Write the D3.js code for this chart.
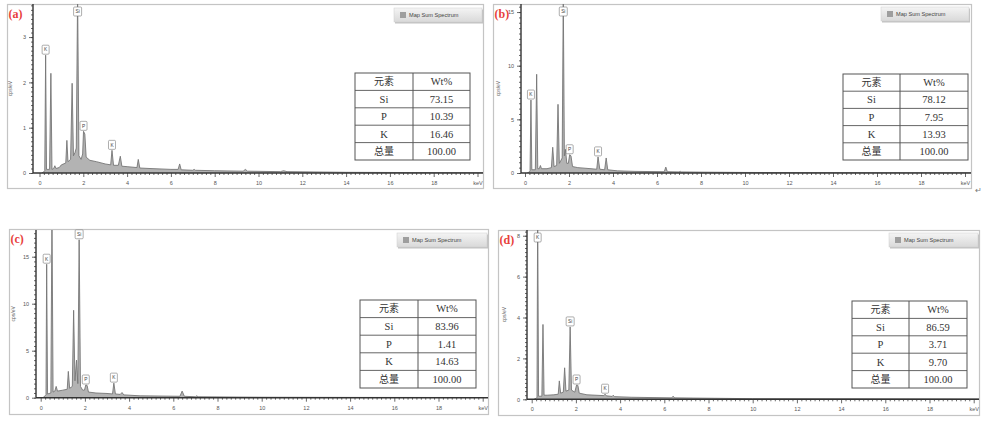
<!DOCTYPE html>
<html><head><meta charset="utf-8">
<script src="https://cdn.jsdelivr.net/npm/d3@7"></script>
<style>body{margin:0;background:#fff;} svg{display:block}</style>
</head><body>
<svg id="chart" width="993" height="422"></svg>
<script>
// ---------------- DATA ----------------
const panelLabels = ["(a)", "(b)", "(c)", "(d)"];
const tableElements = ["元素", "Si", "P", "K", "总量"];
const tableHeader = "Wt%";
const wtA = ["73.15", "10.39", "16.46", "100.00"];
const wtB = ["78.12", "7.95", "13.93", "100.00"];
const wtC = ["83.96", "1.41", "14.63", "100.00"];
const wtD = ["86.59", "3.71", "9.70", "100.00"];
const xTickValues = [0, 2, 4, 6, 8, 10, 12, 14, 16, 18];
const xUnitLabel = "keV";
const yTicksA = [0, 1, 2, 3];
const yTicksB = [0, 5, 10, 15];
const yTicksC = [0, 5, 10, 15];
const yTicksD = [0, 2, 4, 6, 8];
const yAxisTitle = "cps/eV";
const legendText = "Map Sum Spectrum";

// spectra: [keV, cps/eV]
const spectrumA = [[0.1,0],[0.18,0.02],[0.24,0.05],[0.28,2.6],[0.32,0.08],[0.46,0.08],[0.52,2.2],[0.57,0.08],[0.65,0.1],[0.7,0.16],[0.75,0.1],[0.9,0.12],[1.0,0.18],[1.2,0.22],[1.25,0.72],[1.3,0.25],[1.42,0.3],[1.49,1.98],[1.55,0.38],[1.62,0.45],[1.68,0.55],[1.74,3.95],[1.8,0.38],[1.9,0.3],[1.97,0.42],[2.01,0.92],[2.07,0.86],[2.13,0.35],[2.3,0.28],[2.6,0.25],[3.0,0.2],[3.25,0.18],[3.31,0.5],[3.38,0.17],[3.6,0.17],[3.69,0.37],[3.76,0.15],[4.0,0.14],[4.45,0.12],[4.51,0.3],[4.58,0.11],[5.0,0.1],[6.0,0.08],[6.33,0.08],[6.4,0.2],[6.47,0.07],[7.0,0.06],[7.06,0.08],[7.12,0.06],[8.0,0.05],[9.3,0.04],[9.4,0.08],[9.5,0.04],[11.0,0.03],[11.15,0.05],[11.3,0.03],[14,0.015],[17,0.01],[20.5,0.005]];
const spectrumB = [[0.1,0],[0.2,0.1],[0.23,0.2],[0.27,6.8],[0.31,0.3],[0.47,0.3],[0.53,9.2],[0.58,0.4],[0.65,0.4],[0.7,0.7],[0.75,0.4],[1.0,0.4],[1.2,0.5],[1.26,2.4],[1.32,0.6],[1.44,0.7],[1.5,6.4],[1.56,0.9],[1.64,1.2],[1.69,1.4],[1.74,16.5],[1.79,1.6],[1.84,2.2],[1.9,0.9],[1.97,0.9],[2.03,1.7],[2.09,1.6],[2.16,0.6],[2.4,0.5],[3.0,0.4],[3.26,0.35],[3.32,1.5],[3.4,0.35],[3.62,0.3],[3.69,1.4],[3.76,0.3],[4.2,0.2],[4.5,0.18],[5.0,0.15],[6.33,0.12],[6.4,0.55],[6.47,0.12],[7.0,0.1],[7.06,0.15],[7.12,0.1],[8.0,0.08],[10,0.05],[14,0.03],[20.5,0.01]];
const spectrumC = [[0.1,0],[0.2,0.2],[0.24,0.3],[0.27,14.2],[0.31,0.4],[0.46,0.5],[0.51,19.5],[0.56,0.6],[0.64,0.7],[0.7,1.2],[0.76,0.7],[1.0,0.8],[1.2,0.9],[1.25,2.8],[1.31,1.0],[1.43,1.2],[1.49,9.3],[1.55,1.8],[1.62,4.0],[1.68,1.5],[1.74,16.8],[1.8,1.2],[1.9,0.8],[1.98,0.8],[2.04,1.35],[2.1,1.3],[2.16,0.6],[2.5,0.5],[3.0,0.45],[3.25,0.4],[3.31,1.55],[3.38,0.4],[3.6,0.35],[3.68,0.55],[3.76,0.3],[4.5,0.2],[6.3,0.15],[6.4,0.7],[6.5,0.15],[7.0,0.1],[7.06,0.2],[7.12,0.1],[10,0.05],[14,0.03],[20.5,0.02]];
const spectrumD = [[0.1,0],[0.2,0.05],[0.24,0.1],[0.27,9.5],[0.31,0.15],[0.46,0.15],[0.51,3.66],[0.56,0.2],[0.7,0.2],[1.0,0.22],[1.2,0.25],[1.25,0.9],[1.31,0.3],[1.43,0.35],[1.49,1.54],[1.55,0.4],[1.68,0.45],[1.74,3.54],[1.8,0.45],[1.95,0.35],[2.03,0.7],[2.09,0.68],[2.15,0.3],[2.5,0.22],[3.26,0.18],[3.32,0.25],[3.38,0.17],[3.64,0.14],[3.69,0.2],[3.75,0.13],[4.5,0.1],[6.33,0.07],[6.4,0.15],[6.47,0.07],[10,0.03],[20.5,0.01]];

const peakLabelsA = [[0.28,"K"],[1.74,"Si"],[2.01,"P"],[3.31,"K"]];
const peakLabelsB = [[0.27,"K"],[1.74,"Si"],[2.03,"P"],[3.32,"K"]];
const peakLabelsC = [[0.27,"K"],[1.74,"Si"],[2.04,"P"],[3.31,"K"]];
const peakLabelsD = [[0.27,"K"],[1.74,"Si"],[2.03,"P"],[3.32,"K"]];

// ---------------- LAYOUT ----------------
const panels = [
  {label:panelLabels[0], wt:wtA, yTicks:yTicksA, spec:spectrumA, peaks:peakLabelsA, yMinor:0.1,
   frame:[7,4,483,188], ax:33, x0:39.5, k:21.9, base:173, top:4, ymax:3.73,
   table:[355,73,470,160,413], legend:[394,8,482,22]},
  {label:panelLabels[1], wt:wtB, yTicks:yTicksB, spec:spectrumB, peaks:peakLabelsB, yMinor:0.5,
   frame:[493,4,971,188], ax:521, x0:525, k:22.0, base:173, top:4, ymax:15.75,
   table:[843,74,968,160,900], legend:[881,7,969,21]},
  {label:panelLabels[2], wt:wtC, yTicks:yTicksC, spec:spectrumC, peaks:peakLabelsC, yMinor:0.5,
   frame:[9,229,488,414], ax:36, x0:40.7, k:22.1, base:397.7, top:230, ymax:17.84,
   table:[360,300,476,388,418], legend:[397,233,487,247]},
  {label:panelLabels[3], wt:wtD, yTicks:yTicksD, spec:spectrumD, peaks:peakLabelsD, yMinor:0.2,
   frame:[498,230,979,415], ax:527, x0:531.7, k:22.1, base:399.3, top:230, ymax:8.28,
   table:[852,301,967,388,909], legend:[889,233,978,247]}
];

const svg = d3.select("#chart");
const defs = svg.append("defs");
const grad = defs.append("linearGradient").attr("id","lg").attr("x1",0).attr("y1",0).attr("x2",0).attr("y2",1);
grad.append("stop").attr("offset","0%").attr("stop-color","#f4f4f4");
grad.append("stop").attr("offset","100%").attr("stop-color","#d9d9d9");

const sans = "'Liberation Sans', Arial, sans-serif";
const serif = "'Liberation Serif', 'Times New Roman', serif";
const cjk = "'Noto Sans CJK SC', sans-serif";
const intFmt = d3.format("d");

panels.forEach((p, i) => {
  const g = svg.append("g");
  const [fx0, fy0, fx1, fy1] = p.frame;
  // frame
  g.append("rect").attr("x", fx0 + 0.5).attr("y", fy0 + 0.5).attr("width", fx1 - fx0).attr("height", fy1 - fy0)
    .attr("fill", "#fff").attr("stroke", "#c4c4c4").attr("stroke-width", 1.2);

  const x = d3.scaleLinear().domain([0, 20]).range([p.x0, p.x0 + 20 * p.k]);
  const y = d3.scaleLinear().domain([0, p.ymax]).range([p.base, p.top]);

  // clip
  const cid = "clip" + i;
  defs.append("clipPath").attr("id", cid).append("rect")
    .attr("x", p.ax).attr("y", p.top).attr("width", fx1 - p.ax).attr("height", p.base - p.top);

  // spectrum
  const area = d3.area().x(d => x(d[0])).y0(p.base).y1(d => y(d[1]));
  const line = d3.line().x(d => x(d[0])).y(d => y(d[1]));
  const sg = g.append("g").attr("clip-path", `url(#${cid})`);
  sg.append("path").datum(p.spec).attr("d", area).attr("fill", "#b3b3b3");
  sg.append("path").datum(p.spec).attr("d", line).attr("fill", "none").attr("stroke", "#767676").attr("stroke-width", 0.9);

  // x axis
  const xMinor = d3.range(0, 20.01, 0.2).filter(v => Math.abs(v / 2 - Math.round(v / 2)) > 0.01);
  const xa = g.append("g").attr("transform", `translate(0,${p.base})`);
  xa.call(d3.axisBottom(x).tickValues(xMinor).tickSize(2).tickFormat(""));
  xa.select(".domain").remove();
  const xa2 = g.append("g").attr("transform", `translate(0,${p.base})`);
  xa2.call(d3.axisBottom(x).tickValues(xTickValues.concat([20])).tickSize(4).tickPadding(4).tickFormat(d => d === 20 ? xUnitLabel : intFmt(d)));
  xa2.select(".domain").remove();
  [xa, xa2].forEach(a => a.selectAll(".tick line").attr("stroke", "#444").attr("stroke-width", 0.8));
  xa2.selectAll(".tick text").attr("font-family", sans).attr("font-size", 5.5).attr("fill", "#555");
  g.append("line").attr("x1", p.ax).attr("x2", fx1).attr("y1", p.base).attr("y2", p.base)
    .attr("stroke", "#333").attr("stroke-width", 1.6);

  // y axis
  const yMinorVals = d3.range(0, p.ymax, p.yMinor);
  const ya = g.append("g").attr("transform", `translate(${p.ax},0)`);
  ya.call(d3.axisLeft(y).tickValues(yMinorVals).tickSize(2).tickFormat(""));
  ya.select(".domain").remove();
  const ya2 = g.append("g").attr("transform", `translate(${p.ax},0)`);
  ya2.call(d3.axisLeft(y).tickValues(p.yTicks).tickSize(4).tickPadding(3).tickFormat(intFmt));
  ya2.select(".domain").remove();
  [ya, ya2].forEach(a => a.selectAll(".tick line").attr("stroke", "#444").attr("stroke-width", 0.8));
  ya2.selectAll(".tick text").attr("font-family", sans).attr("font-size", 5.5).attr("fill", "#555");
  g.append("line").attr("x1", p.ax).attr("x2", p.ax).attr("y1", p.base).attr("y2", p.top)
    .attr("stroke", "#333").attr("stroke-width", 1.4);
  g.append("text").attr("transform", `translate(${p.ax - 21},${(p.base + p.top) / 2}) rotate(-90)`)
    .attr("text-anchor", "middle").attr("font-family", sans).attr("font-size", 5).attr("fill", "#666").text(yAxisTitle);

  // peak labels
  p.peaks.forEach(([e, t]) => {
    const h = d3.max(p.spec.filter(d => Math.abs(d[0] - e) < 0.05), d => d[1]);
    const w = t.length > 1 ? 8 : 7, bh = 9;
    const by = h >= p.ymax ? p.top + 3 : y(h) - 1 - bh;
    const lg = g.append("g");
    lg.append("rect").attr("x", x(e) - w / 2).attr("y", by).attr("width", w).attr("height", bh).attr("rx", 1)
      .attr("fill", "#fff").attr("stroke", "#777").attr("stroke-width", 0.6);
    lg.append("text").attr("x", x(e)).attr("y", by + 6.3).attr("text-anchor", "middle")
      .attr("font-family", sans).attr("font-size", 4.8).attr("fill", "#444").text(t);
  });

  // legend
  const [lx0, ly0, lx1, ly1] = p.legend;
  g.append("rect").attr("x", lx0 + 1).attr("y", ly0 + 1.5).attr("width", lx1 - lx0).attr("height", ly1 - ly0).attr("fill", "#9a9a9a").attr("opacity", 0.6);
  g.append("rect").attr("x", lx0).attr("y", ly0).attr("width", lx1 - lx0).attr("height", ly1 - ly0)
    .attr("fill", "url(#lg)").attr("stroke", "#cfcfcf").attr("stroke-width", 0.5);
  g.append("rect").attr("x", lx0 + 6).attr("y", (ly0 + ly1) / 2 - 3).attr("width", 6).attr("height", 6).attr("fill", "#9e9e9e");
  g.append("text").attr("x", lx0 + 15).attr("y", (ly0 + ly1) / 2 + 2).attr("font-family", sans).attr("font-size", 5.6)
    .attr("fill", "#444").text(legendText);

  // table
  const [tx0, ty0, tx1, ty1, tdiv] = p.table;
  const rh = (ty1 - ty0) / 5;
  const tg = g.append("g");
  tg.append("rect").attr("x", tx0).attr("y", ty0).attr("width", tx1 - tx0).attr("height", ty1 - ty0)
    .attr("fill", "#fff").attr("stroke", "#555").attr("stroke-width", 1);
  tg.append("line").attr("x1", tdiv).attr("x2", tdiv).attr("y1", ty0).attr("y2", ty1).attr("stroke", "#555").attr("stroke-width", 1);
  d3.range(1, 5).forEach(r => tg.append("line").attr("x1", tx0).attr("x2", tx1).attr("y1", ty0 + r * rh).attr("y2", ty0 + r * rh)
    .attr("stroke", "#555").attr("stroke-width", 0.9));
  const rows = tableElements.map((el, r) => [el, r === 0 ? tableHeader : p.wt[r - 1]]);
  rows.forEach(([a, b], r) => {
    const cy = ty0 + r * rh + rh / 2 + 3.6;
    const isCjk = /[\u4e00-\u9fff]/.test(a);
    tg.append("text").attr("x", (tx0 + tdiv) / 2).attr("y", cy).attr("text-anchor", "middle")
      .attr("font-family", isCjk ? cjk : serif).attr("font-size", isCjk ? 10 : 10.5).attr("fill", "#333").text(a);
    tg.append("text").attr("x", (tdiv + tx1) / 2).attr("y", cy).attr("text-anchor", "middle")
      .attr("font-family", serif).attr("font-size", 10.5).attr("fill", "#333").text(b);
  });

  // panel label
  g.append("text").attr("x", fx0 + 1.5).attr("y", fy0 + 14).attr("font-family", serif).attr("font-weight", "bold")
    .attr("font-size", 12).attr("fill", "#e8403c").text(p.label);
});

svg.append("text").attr("x", 975).attr("y", 193).attr("font-family", sans).attr("font-size", 8).attr("fill", "#777").text("↵");
</script>
</body></html>
